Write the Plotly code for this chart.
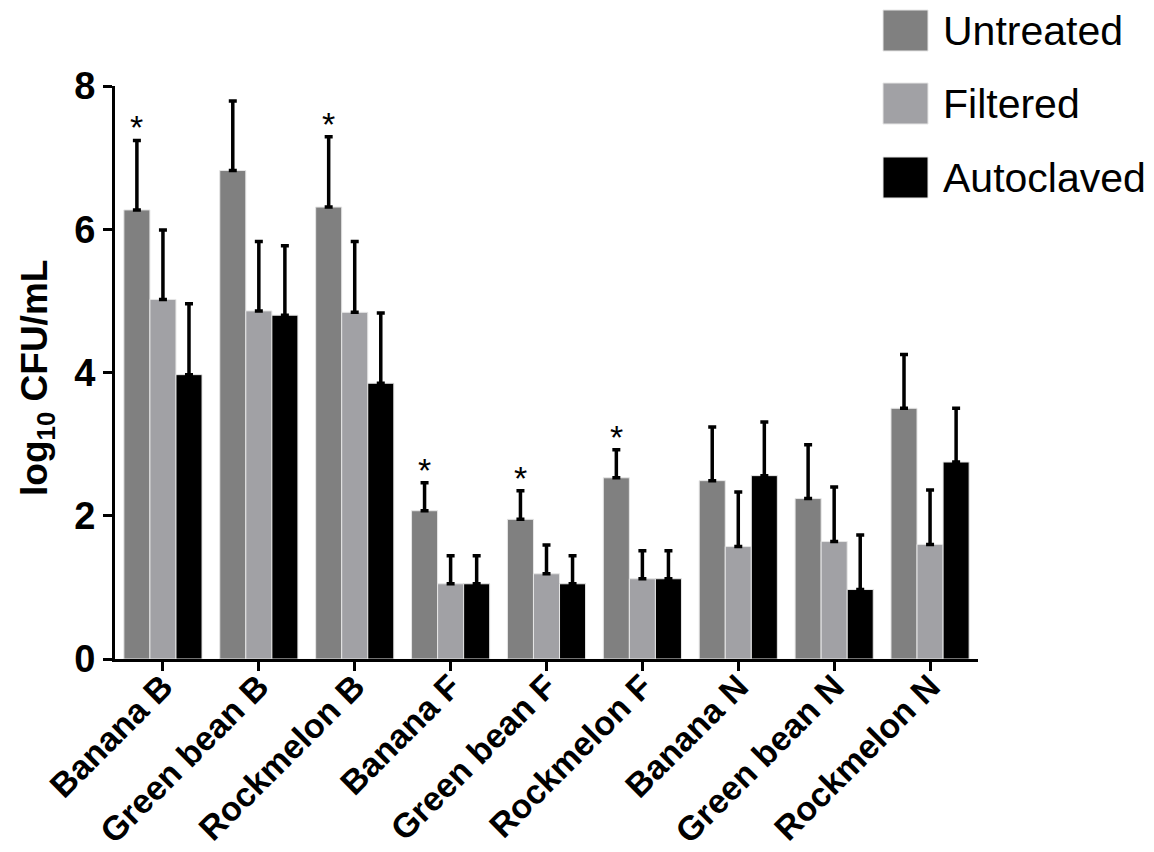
import plotly.graph_objects as go

categories = ["Banana B", "Green bean B", "Rockmelon B", "Banana F", "Green bean F",
              "Rockmelon F", "Banana N", "Green bean N", "Rockmelon N"]
series_names = ["Untreated", "Filtered", "Autoclaved"]
untreated = [6.27, 6.82, 6.31, 2.07, 1.95, 2.53, 2.49, 2.24, 3.50]
untreated_err = [0.97, 0.97, 0.98, 0.39, 0.40, 0.39, 0.75, 0.75, 0.75]
filtered = [5.02, 4.86, 4.84, 1.05, 1.19, 1.12, 1.57, 1.64, 1.60]
filtered_err = [0.97, 0.97, 0.99, 0.39, 0.40, 0.39, 0.76, 0.76, 0.76]
autoclaved = [3.97, 4.80, 3.85, 1.05, 1.05, 1.12, 2.56, 0.97, 2.75]
autoclaved_err = [0.99, 0.97, 0.98, 0.39, 0.39, 0.39, 0.75, 0.76, 0.75]
significant = [True, False, True, True, True, True, False, False, False]
y_ticks = [0, 2, 4, 6, 8]

colors = ["#808080", "#a1a1a5", "#000000"]
values = [untreated, filtered, autoclaved]
errors = [untreated_err, filtered_err, autoclaved_err]

W, H = 1154, 852
L, R, T, B = 115, 176, 86, 193
pw, ph = W - L - R, H - T - B
bargap = 0.185

def px_x(px):
    return (px - L) / pw

def px_y(py):
    return (H - B - py) / ph

FONT = "Liberation Sans, Arial, sans-serif"

fig = go.Figure()
for name, col, v, e in zip(series_names, colors, values, errors):
    fig.add_trace(go.Bar(
        x=categories, y=v, name=name,
        marker=dict(color=col, line=dict(color="#e6e6e6", width=1)),
        error_y=dict(type="data", array=e, arrayminus=[0] * len(e), symmetric=False,
                     color="black", thickness=3.5, width=4),
        showlegend=False,
    ))

# asterisks above significant untreated bars
bar_w = (1 - bargap) / 3
for i, sig in enumerate(significant):
    if sig:
        fig.add_annotation(x=i - bar_w, y=untreated[i] + untreated_err[i], xref="x", yref="y",
                           text="*", showarrow=False, yanchor="bottom", yshift=-8,
                           font=dict(family=FONT, size=34, color="black"))

# legend drawn manually (large swatches)
leg_top = [10, 83, 157]
for name, col, top in zip(series_names, colors, leg_top):
    fig.add_shape(type="rect", xref="paper", yref="paper",
                  x0=px_x(883), x1=px_x(928), y0=px_y(top + 41), y1=px_y(top),
                  fillcolor=col, line=dict(color="#e6e6e6", width=1))
    fig.add_annotation(xref="paper", yref="paper", x=px_x(941), y=px_y(top + 21),
                       text=name, showarrow=False, xanchor="left", yanchor="middle",
                       font=dict(family=FONT, size=41, color="black"))

# y-axis title
fig.add_annotation(xref="paper", yref="paper", x=px_x(37), y=px_y(378),
                   text="log<sub>10</sub> CFU/mL", textangle=-90, showarrow=False,
                   xanchor="center", yanchor="middle",
                   font=dict(family=FONT, size=37, color="black", weight="bold"))

fig.update_layout(
    width=W, height=H,
    margin=dict(l=L, r=R, t=T, b=B, pad=0, autoexpand=False),
    plot_bgcolor="white", paper_bgcolor="white",
    barmode="group", bargap=bargap, bargroupgap=0,
    showlegend=False,
    font=dict(family=FONT, color="black"),
)
fig.update_xaxes(
    type="category", range=[-0.5, 8.5], automargin=False,
    showline=True, linecolor="black", linewidth=3,
    ticks="outside", ticklen=9, tickwidth=3, tickcolor="black",
    tickangle=-45, ticklabelstandoff=-18,
    tickfont=dict(family=FONT, size=34, color="black", weight="bold"),
    showgrid=False, zeroline=False,
)
fig.update_yaxes(
    range=[0, 8], tickvals=y_ticks, automargin=False,
    showline=True, linecolor="black", linewidth=3,
    ticks="outside", ticklen=9, tickwidth=3, tickcolor="black",
    tickfont=dict(family=FONT, size=38, color="black", weight="bold"),
    showgrid=False, zeroline=False,
)

fig.write_html("out.html", config={"displayModeBar": False},
               post_script="document.body.style.margin='0';")
